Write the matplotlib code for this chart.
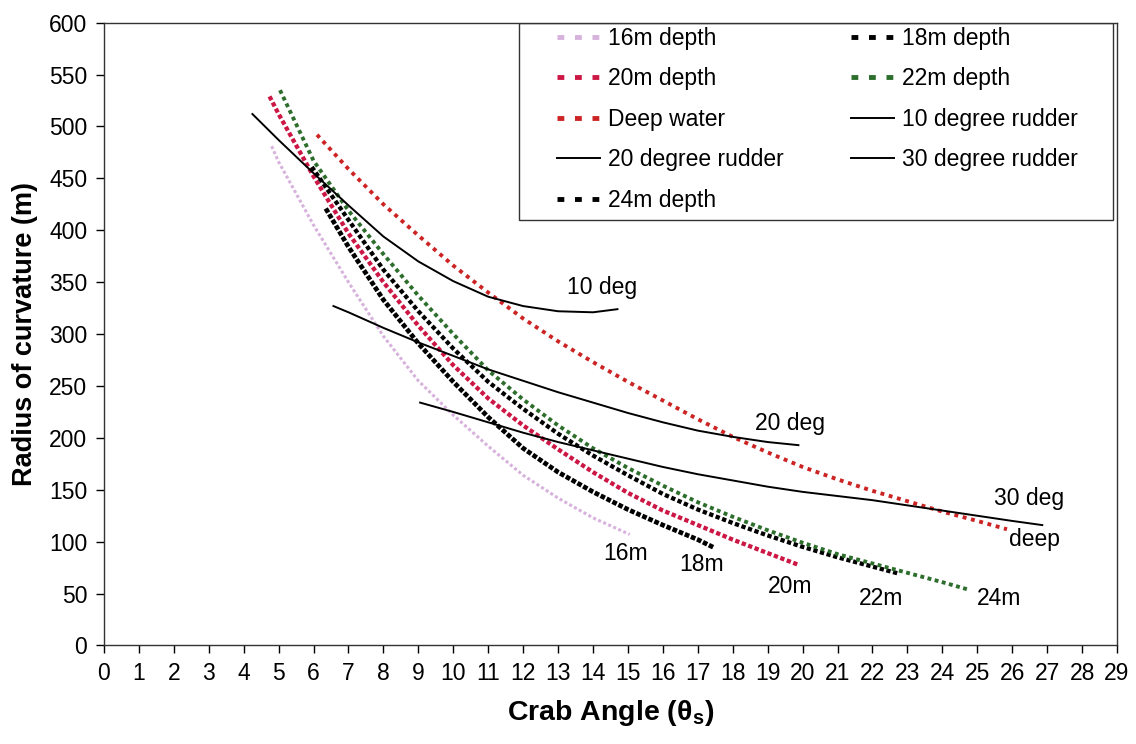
import matplotlib
matplotlib.use('Agg')
import matplotlib.pyplot as plt
from matplotlib.lines import Line2D
from matplotlib.patches import Rectangle

plt.rcParams['font.family'] = ['Liberation Sans', 'DejaVu Sans']
plt.rcParams['mathtext.fontset'] = 'custom'
plt.rcParams['mathtext.rm'] = 'Liberation Sans:bold'
plt.rcParams['mathtext.bf'] = 'Liberation Sans:bold'

#%% data (crab angle in deg, radius in m)

x16 = [4.8, 5, 6, 7, 8, 9, 10, 11, 12, 13, 14, 15.05]
y16 = [481, 466, 405, 350, 298, 255, 222, 192, 164, 142, 123, 107]

x18 = [6.35, 7, 8, 9, 10, 11, 12, 13, 14, 15, 16, 17, 17.48]
y18 = [421, 384, 333, 291, 254, 220, 190, 167, 148, 131, 116, 102, 94]

x20 = [4.74, 5, 6, 7, 8, 9, 10, 11, 12, 13, 14, 15, 16, 17, 18, 19, 19.86]
y20 = [529, 512, 452, 397, 350, 308, 270, 238, 212, 189, 167, 147, 130, 116, 102, 89, 78]

x22 = [5.04, 6, 7, 8, 9, 10, 11, 12, 13, 14, 15, 16, 17, 18, 19, 20, 21, 22, 23, 24, 24.73]
y22 = [535, 467, 419, 377, 337, 300, 265, 237, 212, 190, 171, 154, 138, 124, 111, 99, 88, 79, 70, 61, 54]

x24 = [5.95, 7, 8, 9, 10, 11, 12, 13, 14, 15, 16, 17, 18, 19, 20, 21, 22, 22.78]
y24 = [461, 410, 362, 322, 286, 254, 228, 204, 183, 164, 146, 131, 118, 106, 95, 85, 76, 69]

xdeep = [6.1, 7, 8, 9, 10, 11, 12, 13, 14, 15, 16, 17, 18, 19, 20, 21, 22, 23, 24, 25, 25.85]
ydeep = [492, 459, 425, 395, 366, 340, 315, 293, 273, 254, 236, 218, 201, 186, 172, 160, 149, 139, 129, 120, 112]

x10r = [4.25, 5, 6, 7, 8, 9, 10, 11, 12, 13, 14, 14.7]
y10r = [512, 487, 455, 424, 394, 370, 351, 336, 327, 322, 321, 324]

x20r = [6.57, 7, 8, 9, 10, 11, 12, 13, 14, 15, 16, 17, 18, 19, 19.88]
y20r = [327, 321, 306, 292, 279, 266, 255, 244, 234, 224, 215, 207, 201, 196, 193]

x30r = [9.05, 10, 11, 12, 13, 14, 15, 16, 17, 18, 19, 20, 21, 22, 23, 24, 25, 26, 26.86]
y30r = [234, 225, 215, 205, 196, 188, 180, 172, 165, 159, 153, 148, 144, 140, 135, 130, 125, 120, 116]

# end labels written on the chart
end_labels = ['16m', '18m', '20m', '22m', '24m', 'deep', '30 deg', '20 deg', '10 deg']
end_x = [14.94, 17.11, 19.65, 22.25, 25.63, 26.64, 26.48, 19.65, 14.25]
end_y = [89, 78, 57, 45, 45, 102, 142, 214, 345]

#%% plot

fig = plt.figure(figsize=(11.36, 7.44), dpi=100)
ax = fig.add_axes([0.0915, 0.1324, 0.8918, 0.8371])

c16 = '#d7b2dc'
c20 = '#cc1744'
c22 = '#2d6e2d'
cdeep = '#cc2424'

ax.plot(x16, y16, color=c16, lw=2.2, ls=(0, (1, 0.8)))
ax.plot(x18, y18, color='black', lw=3.4, ls=(0, (1, 0.4)))
ax.plot(x20, y20, color=c20, lw=3.1, ls=(0, (1, 0.6)))
ax.plot(x24, y24, color='black', lw=3.1, ls=(0, (1, 0.6)))
ax.plot(x22, y22, color=c22, lw=2.8, ls=(0, (1, 0.9)))
ax.plot(xdeep, ydeep, color=cdeep, lw=2.8, ls=(0, (1, 1.2)))
ax.plot(x10r, y10r, color='black', lw=1.4)
ax.plot(x20r, y20r, color='black', lw=1.4)
ax.plot(x30r, y30r, color='black', lw=1.4)

for lab, lx, ly in zip(end_labels, end_x, end_y):
    ax.text(lx, ly, lab, fontsize=16.5, ha='center', va='center')

ax.set_xlim(0, 29)
ax.set_ylim(0, 600)
ax.set_xticks(range(0, 30))
ax.set_yticks(range(0, 601, 50))
ax.tick_params(direction='out', length=6, width=1, labelsize=16.5, pad=6)
for sp in ax.spines.values():
    sp.set_linewidth(1.0)
    sp.set_color('#333333')

ax.set_ylabel('Radius of curvature (m)', fontsize=19.5, fontweight='bold', labelpad=8)
ax.set_xlabel(r'Crab Angle (θ$_\mathrm{s}$)', fontsize=20.5, fontweight='bold', labelpad=9)

# legend (Excel style, boxed in upper right)
dash = (0, (1.4, 2.2))
hnd = [
    Line2D([], [], color=c16, lw=3.5, ls=dash),
    Line2D([], [], color=c20, lw=3.5, ls=dash),
    Line2D([], [], color=cdeep, lw=3.5, ls=dash),
    Line2D([], [], color='black', lw=1.4),
    Line2D([], [], color='black', lw=3.5, ls=dash),
    Line2D([], [], color='black', lw=3.5, ls=dash),
    Line2D([], [], color=c22, lw=3.5, ls=dash),
    Line2D([], [], color='black', lw=1.4),
    Line2D([], [], color='black', lw=1.4),
]
labs = ['16m depth', '20m depth', 'Deep water', '20 degree rudder', '24m depth',
        '18m depth', '22m depth', '10 degree rudder', '30 degree rudder']
ax.legend(hnd, labs, ncol=2, loc='upper left', bbox_to_anchor=(0.447, 0.993),
          frameon=False, fontsize=16.5, borderpad=0, borderaxespad=0,
          handlelength=1.9, handletextpad=0.35, columnspacing=2.9, labelspacing=0.76)
ax.add_patch(Rectangle((0.4097, 0.683), 0.5863, 0.317, transform=ax.transAxes,
                       fill=True, facecolor='white', edgecolor='#333333', lw=1.0, zorder=1.5))

fig.savefig('out.png', dpi=100)
